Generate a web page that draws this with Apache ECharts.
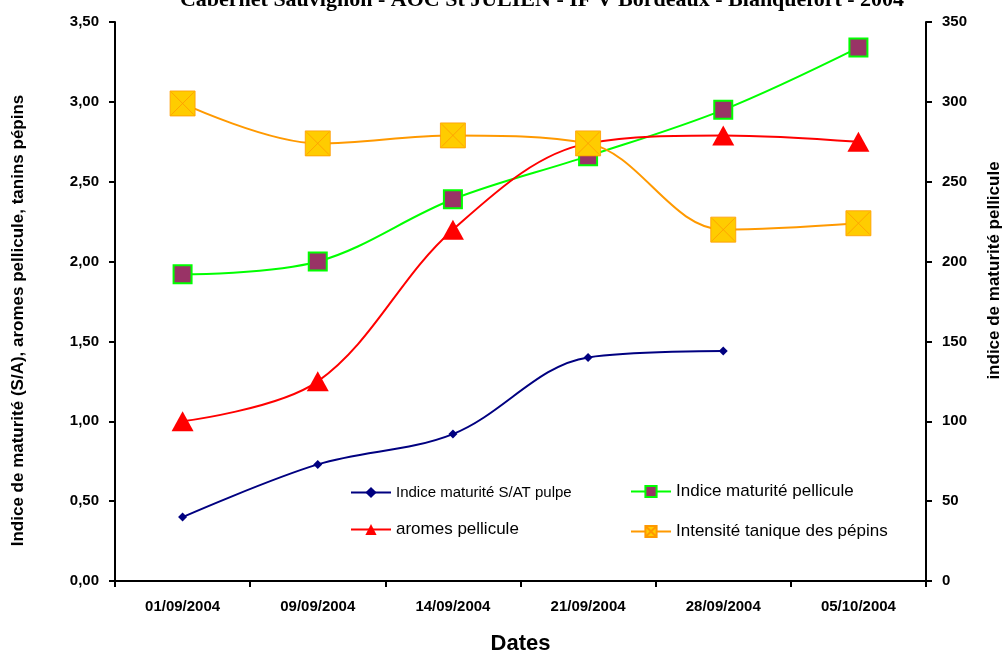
<!DOCTYPE html>
<html>
<head>
<meta charset="utf-8">
<script src="https://cdn.jsdelivr.net/npm/echarts@6/dist/echarts.min.js"></script>
<style>html,body{margin:0;padding:0;background:#fff}#c{width:1002px;height:655px}</style>
</head>
<body>
<div id="c"></div>
<script>
const titleText = "Cabernet Sauvignon - AOC St JULIEN - IF V Bordeaux - Blanquefort - 2004";
const categories = ["01/09/2004", "09/09/2004", "14/09/2004", "21/09/2004", "28/09/2004", "05/10/2004"];
const leftTicks = [0, 0.5, 1, 1.5, 2, 2.5, 3, 3.5];
const rightTicks = [0, 50, 100, 150, 200, 250, 300, 350];
const indiceSATPulpe = [0.40, 0.73, 0.92, 1.40, 1.44, null];
const indicePellicule = [192, 200, 239, 266, 295, 334];
const aromesPellicule = [1.00, 1.25, 2.20, 2.74, 2.79, 2.75];
const intensiteTanique = [2.99, 2.74, 2.79, 2.74, 2.20, 2.24];
const names = ["Indice maturité S/AT pulpe", "Indice maturité pellicule", "aromes pellicule", "Intensité tanique des pépins"];

const chart = echarts.init(document.getElementById('c'), null, {renderer: 'canvas'});
const font = 'Liberation Sans, Arial, sans-serif';
const axisLine = {show: true, lineStyle: {color: '#000', width: 2}};
const legendText = {fontFamily: font, fontSize: 17, color: '#000', rich: {a: {fontFamily: font, fontSize: 15, color: '#000'}}};
chart.setOption({
  backgroundColor: '#fff',
  animation: false,
  title: {
    text: titleText, left: 537, top: -16, textAlign: 'center',
    textStyle: {fontFamily: 'Liberation Serif, Times New Roman, serif', fontWeight: 'bold', fontSize: 22, color: '#000'}
  },
  grid: {left: 115, right: 76, top: 22, bottom: 74, containLabel: false, outerBoundsMode: 'none'},
  legend: [
    {data: [names[0], names[2]], left: 345, top: 480, orient: 'vertical', itemGap: 21, itemWidth: 40, itemHeight: 14,
     formatter: n => n === names[0] ? '{a|' + n + '}' : n, textStyle: legendText},
    {data: [names[1], names[3]], left: 625, top: 478, orient: 'vertical', itemGap: 23, itemWidth: 40, itemHeight: 14,
     textStyle: legendText}
  ],
  xAxis: {
    type: 'category', data: categories, boundaryGap: true,
    name: 'Dates', nameLocation: 'middle', nameGap: 52,
    nameTextStyle: {fontFamily: font, fontWeight: 'bold', fontSize: 22, color: '#000'},
    axisLine: axisLine,
    axisTick: {show: true, length: 6, lineStyle: {color: '#000', width: 2}},
    axisLabel: {fontFamily: font, fontWeight: 'bold', fontSize: 15, color: '#000', margin: 18},
    splitLine: {show: false}
  },
  yAxis: [
    {
      type: 'value', min: 0, max: 3.5, interval: 0.5, position: 'left',
      name: 'Indice de maturité (S/A), aromes pellicule, tanins pépins', nameLocation: 'middle', nameGap: 88,
      nameTextStyle: {fontFamily: font, fontWeight: 'bold', fontSize: 17, color: '#000', padding: [0, 38, 0, 0]},
      axisLine: axisLine,
      axisTick: {show: true, length: 6, lineStyle: {color: '#000', width: 2}},
      axisLabel: {fontFamily: font, fontWeight: 'bold', fontSize: 15, color: '#000', margin: 16,
        formatter: v => leftTicks.includes(v) ? v.toFixed(2).replace('.', ',') : ''},
      splitLine: {show: false}
    },
    {
      type: 'value', min: 0, max: 350, interval: 50, position: 'right',
      name: 'indice de maturité pellicule', nameLocation: 'middle', nameGap: 60, nameRotate: 90,
      nameTextStyle: {fontFamily: font, fontWeight: 'bold', fontSize: 17, color: '#000', padding: [0, 0, 0, 62]},
      axisLine: axisLine,
      axisTick: {show: true, length: 6, inside: false, lineStyle: {color: '#000', width: 2}},
      axisLabel: {fontFamily: font, fontWeight: 'bold', fontSize: 15, color: '#000', margin: 16,
        formatter: v => rightTicks.includes(v) ? String(v) : ''},
      splitLine: {show: false}
    }
  ],
  series: [
    {
      name: names[0], type: 'line', yAxisIndex: 0, data: indiceSATPulpe, smooth: 0.35,
      symbol: 'diamond', symbolSize: 9, showAllSymbol: true,
      lineStyle: {color: '#000080', width: 2}, itemStyle: {color: '#000080'}, z: 5
    },
    {
      name: names[1], type: 'line', yAxisIndex: 1, data: indicePellicule, smooth: 0.35,
      symbol: 'rect', symbolSize: 18,
      lineStyle: {color: '#00FF00', width: 2}, itemStyle: {color: '#993366', borderColor: '#00FF00', borderWidth: 2}, z: 3
    },
    {
      name: names[2], type: 'line', yAxisIndex: 0, data: aromesPellicule, smooth: 0.35,
      symbol: 'triangle', symbolSize: [22, 20],
      lineStyle: {color: '#FF0000', width: 2}, itemStyle: {color: '#FF0000'}, z: 4
    },
    {
      name: names[3], type: 'line', yAxisIndex: 0, data: intensiteTanique, smooth: 0.35,
      symbol: 'path://M0,0H10V10H0Z M0.5,0.5L9.5,9.5 M9.5,0.5L0.5,9.5', symbolSize: 25, symbolKeepAspect: true,
      lineStyle: {color: '#FF9900', width: 2}, itemStyle: {color: '#FFCC00', borderColor: '#FF9900', borderWidth: 0.8}, z: 6
    }
  ]
});
</script>
</body>
</html>
